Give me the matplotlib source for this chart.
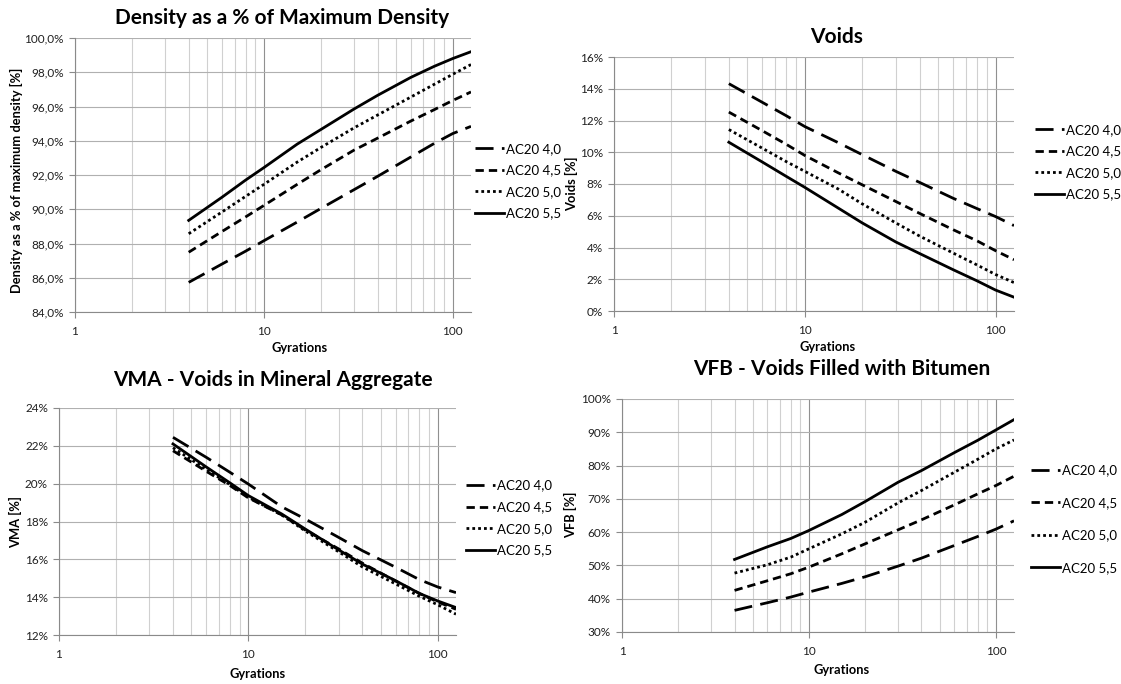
import matplotlib
matplotlib.use('Agg')
import matplotlib.pyplot as plt
from matplotlib.ticker import FixedLocator, NullFormatter, FuncFormatter

plt.rcParams['font.family'] = ['Lato', 'DejaVu Sans']

W, H = 1121, 684

gyrations = [4, 6, 8, 10, 15, 20, 30, 40, 60, 80, 100, 125]
mixes = ['AC20 4,0', 'AC20 4,5', 'AC20 5,0', 'AC20 5,5']

# density as % of maximum density
density_40 = [85.73, 86.8, 87.55, 88.16, 89.25, 90.04, 91.14, 91.92, 93.05, 93.85, 94.42, 94.84]
density_45 = [87.49, 88.7, 89.55, 90.22, 91.45, 92.3, 93.45, 94.15, 95.15, 95.82, 96.35, 96.85]
density_50 = [88.57, 89.84, 90.75, 91.45, 92.75, 93.6, 94.75, 95.5, 96.55, 97.3, 97.88, 98.45]
density_55 = [89.35, 90.7, 91.7, 92.43, 93.8, 94.65, 95.85, 96.65, 97.7, 98.35, 98.8, 99.2]

# air voids [%]
voids_40 = [14.32, 13.14, 12.3, 11.62, 10.6, 9.85, 8.8, 8.1, 7.1, 6.45, 5.95, 5.38]
voids_45 = [12.53, 11.35, 10.5, 9.8, 8.7, 7.95, 6.9, 6.15, 5.12, 4.42, 3.8, 3.23]
voids_50 = [11.43, 10.25, 9.41, 8.8, 7.68, 6.75, 5.55, 4.72, 3.65, 2.9, 2.3, 1.79]
voids_55 = [10.63, 9.38, 8.48, 7.79, 6.48, 5.55, 4.35, 3.62, 2.6, 1.9, 1.32, 0.87]

# voids in mineral aggregate [%]
vma_40 = [22.45, 21.39, 20.6, 19.98, 18.78, 18.13, 17.16, 16.46, 15.58, 14.93, 14.54, 14.24]
vma_45 = [21.74, 20.65, 19.9, 19.25, 18.35, 17.55, 16.55, 15.8, 14.85, 14.2, 13.75, 13.36]
vma_50 = [21.9, 20.75, 19.95, 19.28, 18.35, 17.5, 16.4, 15.6, 14.7, 14.05, 13.6, 13.1]
vma_55 = [22.1, 20.88, 20.04, 19.37, 18.4, 17.6, 16.5, 15.75, 14.87, 14.2, 13.8, 13.45]

# voids filled with bitumen [%]
vfb_40 = [36.5, 38.8, 40.5, 42.0, 44.6, 46.6, 49.8, 52.2, 56.0, 58.7, 60.9, 63.4]
vfb_45 = [42.5, 45.4, 47.5, 49.5, 53.5, 56.5, 60.7, 63.7, 68.2, 71.5, 74.0, 76.8]
vfb_50 = [47.7, 50.2, 52.5, 55.0, 59.5, 63.0, 68.8, 72.5, 78.0, 81.9, 85.0, 87.7]
vfb_55 = [51.8, 55.6, 58.1, 60.5, 65.3, 69.2, 75.0, 78.5, 83.9, 87.6, 90.7, 93.8]

styles = [
    dict(dashes=(6.5, 3.0)),
    dict(dashes=(3.0, 1.8)),
    dict(dashes=(1.0, 1.1)),
    dict(linestyle='-'),
]


def px_rect(left, top, right, bottom):
    return [left / W, 1 - bottom / H, (right - left) / W, (bottom - top) / H]


def draw_panel(fig, rect, series, ylim, ystep, yfmt, title, title_xy, ylabel, ylabel_xy,
               xlabel_xy, legend_xy, legend_spacing):
    ax = fig.add_axes(px_rect(*rect))
    for vals, name, st in zip(series, mixes, styles):
        ax.plot(gyrations, vals, color='black', lw=2.0, label=name, **st)

    ax.set_xscale('log')
    ax.set_xlim(1, 125)
    ax.set_ylim(*ylim)
    ax.xaxis.set_major_locator(FixedLocator([1, 10, 100]))
    ax.xaxis.set_major_formatter(FuncFormatter(lambda v, p: '%d' % v))
    minors = [m * d for d in (1, 10, 100) for m in range(2, 10) if m * d < 125]
    ax.xaxis.set_minor_locator(FixedLocator(minors))
    ax.xaxis.set_minor_formatter(NullFormatter())
    yt = []
    v = ylim[0]
    while v <= ylim[1] + 1e-9:
        yt.append(v)
        v += ystep
    ax.yaxis.set_major_locator(FixedLocator(yt))
    ax.yaxis.set_major_formatter(FuncFormatter(yfmt))

    ax.grid(True, which='major', axis='y', color='#b0b0b0', lw=0.8)
    ax.grid(True, which='major', axis='x', color='#909090', lw=0.8)
    ax.grid(True, which='minor', axis='x', color='#d0d0d0', lw=0.8)
    ax.set_axisbelow(True)
    for s in ('top', 'right'):
        ax.spines[s].set_visible(False)
    for s in ('left', 'bottom'):
        ax.spines[s].set_color('#8a8a8a')
        ax.spines[s].set_linewidth(0.8)
    ax.tick_params(axis='both', which='major', length=4, color='#8a8a8a',
                   labelsize=8.5, labelcolor='#202020', pad=4)
    ax.tick_params(axis='x', which='minor', length=0)
    ax.tick_params(axis='x', which='major', pad=6)

    fig.text(title_xy[0] / W, 1 - title_xy[1] / H, title, ha='center', va='baseline',
             fontsize=15, fontweight='bold')
    fig.text(ylabel_xy[0] / W, 1 - ylabel_xy[1] / H, ylabel, ha='center', va='center',
             rotation=90, fontsize=9.3, fontweight='bold')
    fig.text(xlabel_xy[0] / W, 1 - xlabel_xy[1] / H, 'Gyrations', ha='center', va='center',
             fontsize=9.3, fontweight='bold')

    ax.legend(loc='center left', bbox_to_anchor=(legend_xy[0] / W, 1 - legend_xy[1] / H),
              bbox_transform=fig.transFigure, frameon=False, fontsize=9.5,
              handlelength=2.2, handletextpad=0.15, labelspacing=legend_spacing,
              borderpad=0, borderaxespad=0)
    return ax


fig = plt.figure(figsize=(W / 100, H / 100), dpi=100)

draw_panel(fig, (75, 38, 471, 312),
           [density_40, density_45, density_50, density_55],
           (84, 100), 2, lambda v, p: ('%.1f%%' % v).replace('.', ','),
           'Density as a % of Maximum Density', (282, 24),
           'Density as a % of maximum density [%]', (16, 180),
           (300, 348), (475, 181), 0.72)

draw_panel(fig, (614, 57, 1014, 311),
           [voids_40, voids_45, voids_50, voids_55],
           (0, 16), 2, lambda v, p: '%d%%' % v,
           'Voids', (837, 43),
           'Voids [%]', (572, 184),
           (828, 347), (1035, 162), 0.72)

draw_panel(fig, (59, 408, 456, 635),
           [vma_40, vma_45, vma_50, vma_55],
           (12, 24), 2, lambda v, p: '%d%%' % v,
           'VMA - Voids in Mineral Aggregate', (273, 386),
           'VMA [%]', (16, 522),
           (258, 674), (466, 518), 0.74)

draw_panel(fig, (622, 399, 1014, 632),
           [vfb_40, vfb_45, vfb_50, vfb_55],
           (30, 100), 10, lambda v, p: '%d%%' % v,
           'VFB - Voids Filled with Bitumen', (842, 375),
           'VFB [%]', (571, 515),
           (842, 670), (1031, 519), 1.55)

fig.savefig('out.png', dpi=100)
